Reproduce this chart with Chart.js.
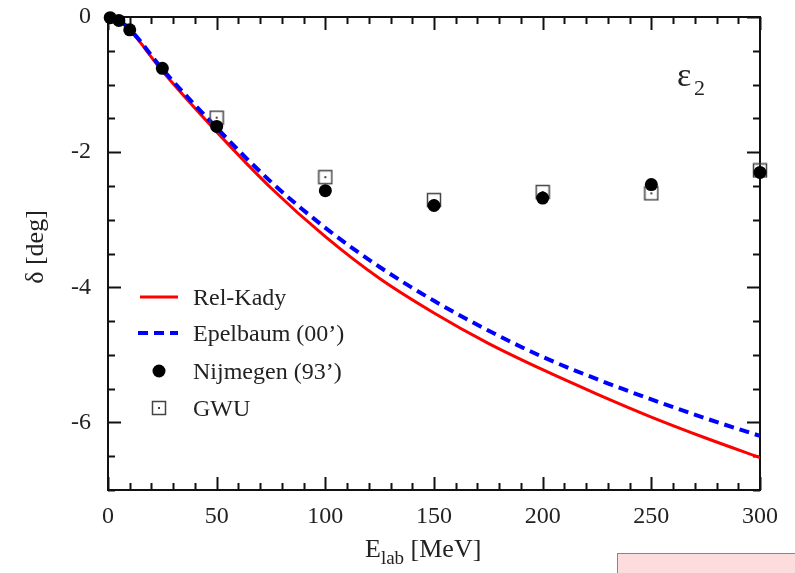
<!DOCTYPE html>
<html>
<head>
<meta charset="utf-8">
<script src="https://cdn.jsdelivr.net/npm/chart.js@4"></script>
<style>
  body { margin: 0; background: #fff; }
  #wrap { position: relative; width: 795px; height: 573px; overflow: hidden; }
  #pinkBox { position: absolute; left: 617px; top: 553px; width: 190px; height: 40px;
             background: #fcdcdc; border: 1.5px solid #c96a6a; box-sizing: border-box; }
</style>
</head>
<body>
<div id="wrap">
  <canvas id="phase" width="795" height="573"></canvas>
  <div id="pinkBox"></div>
</div>
<script>
// curves
var energies = [0, 5, 10, 25, 50, 75, 100, 125, 150, 175, 200, 225, 250, 275, 300];
var relKady  = [0, -0.05, -0.19, -0.8, -1.7, -2.53, -3.25, -3.87, -4.38, -4.83, -5.22, -5.58, -5.92, -6.23, -6.52];
var epelbaum = [0, -0.05, -0.18, -0.77, -1.64, -2.44, -3.12, -3.7, -4.2, -4.64, -5.03, -5.36, -5.66, -5.94, -6.2];

// phase shift analyses
var nijmE = [1, 5, 10, 25, 50, 100, 150, 200, 250, 300];
var nijm  = [-0.01, -0.05, -0.19, -0.76, -1.62, -2.57, -2.79, -2.68, -2.48, -2.3];
var gwuE  = [50, 100, 150, 200, 250, 300];
var gwu   = [-1.49, -2.37, -2.71, -2.59, -2.61, -2.27];

var xTicks = [0, 50, 100, 150, 200, 250, 300];
var yTicks = [0, -2, -4, -6];

var serif = '"Liberation Serif", "Times New Roman", serif';
var ink = '#222';

function pairs(xs, ys) {
    return xs.map(function (v, i) { return { x: v, y: ys[i] }; });
}

// open square with a tiny dot, like the GWU marker
var gwuMark = document.createElement('canvas');
gwuMark.width = 16; gwuMark.height = 16;
(function () {
    var c = gwuMark.getContext('2d');
    c.strokeStyle = '#444';
    c.lineWidth = 1.5;
    c.strokeRect(1.5, 1.5, 13, 13);
    c.fillStyle = '#444';
    c.fillRect(7, 7, 2, 2);
})();

var framePlugin = {
    id: 'frame',
    beforeDatasetsDraw: function (chart) {
        var ctx = chart.ctx, a = chart.chartArea, x = chart.scales.x, y = chart.scales.y;
        ctx.save();
        ctx.strokeStyle = '#111';
        ctx.lineWidth = 2;
        ctx.strokeRect(a.left, a.top, a.right - a.left, a.bottom - a.top);
        ctx.beginPath();
        for (var v = 0; v <= 300; v += 10) {
            var px = Math.round(x.getPixelForValue(v)) + 0.5;
            var len = v % 50 === 0 ? 13 : 7;
            ctx.moveTo(px, a.bottom); ctx.lineTo(px, a.bottom - len);
            ctx.moveTo(px, a.top); ctx.lineTo(px, a.top + len);
        }
        for (var w = -7; w <= 0; w += 0.5) {
            var py = Math.round(y.getPixelForValue(w)) + 0.5;
            var l2 = w % 2 === 0 ? 13 : 7;
            ctx.moveTo(a.left, py); ctx.lineTo(a.left + l2, py);
            ctx.moveTo(a.right, py); ctx.lineTo(a.right - l2, py);
        }
        ctx.stroke();
        ctx.restore();
    },
    afterDraw: function (chart) {
        var ctx = chart.ctx;
        ctx.save();
        ctx.fillStyle = ink;
        ctx.textBaseline = 'alphabetic';

        // y title
        ctx.save();
        ctx.translate(43, 247);
        ctx.rotate(-Math.PI / 2);
        ctx.textAlign = 'center';
        ctx.font = '26px ' + serif;
        ctx.fillText('\u03b4 [deg]', 0, 0);
        ctx.restore();

        // x title with subscript
        ctx.textAlign = 'left';
        ctx.font = '26px ' + serif;
        ctx.fillText('E', 365, 557);
        var ew = ctx.measureText('E').width;
        ctx.font = '19px ' + serif;
        ctx.fillText('lab', 365 + ew, 564);
        var lw = ctx.measureText('lab').width;
        ctx.font = '26px ' + serif;
        ctx.fillText(' [MeV]', 365 + ew + lw, 557);

        // panel label
        ctx.font = '34px ' + serif;
        ctx.fillText('\u03b5', 677, 86);
        ctx.font = '22px ' + serif;
        ctx.fillText('2', 694, 95);

        // legend
        var lx = 193;
        ctx.font = '24px ' + serif;
        ctx.lineWidth = 3;
        ctx.strokeStyle = '#ff0000';
        ctx.beginPath(); ctx.moveTo(140, 297); ctx.lineTo(178, 297); ctx.stroke();
        ctx.fillText('Rel-Kady', lx, 305);

        ctx.strokeStyle = '#0000ff';
        ctx.lineWidth = 4;
        ctx.setLineDash([10, 6]);
        ctx.beginPath(); ctx.moveTo(138, 333); ctx.lineTo(178, 333); ctx.stroke();
        ctx.setLineDash([]);
        ctx.fillText('Epelbaum (00\u2019)', lx, 341);

        ctx.beginPath(); ctx.arc(159, 371, 6.5, 0, Math.PI * 2);
        ctx.fillStyle = '#000'; ctx.fill();
        ctx.fillStyle = ink;
        ctx.fillText('Nijmegen (93\u2019)', lx, 379);

        ctx.drawImage(gwuMark, 151, 400);
        ctx.fillText('GWU', lx, 416);
        ctx.restore();
    }
};

var phase = document.getElementById('phase').getContext('2d');
var phaseChart = new Chart(phase, {
    type: 'line',
    data: {
        datasets: [{
            label: 'Nijmegen (93\u2019)',
            data: pairs(nijmE, nijm),
            showLine: false,
            pointRadius: 6.5,
            pointBackgroundColor: '#000',
            pointBorderColor: '#000',
            pointBorderWidth: 0,
            clip: false,
            order: 0
        }, {
            label: 'GWU',
            data: pairs(gwuE, gwu),
            showLine: false,
            pointStyle: gwuMark,
            clip: false,
            order: 1
        }, {
            label: 'Epelbaum (00\u2019)',
            data: pairs(energies, epelbaum),
            borderColor: '#0000ff',
            borderWidth: 4,
            borderDash: [10, 6],
            pointRadius: 0,
            cubicInterpolationMode: 'monotone',
            order: 2
        }, {
            label: 'Rel-Kady',
            data: pairs(energies, relKady),
            borderColor: '#ff0000',
            borderWidth: 3,
            pointRadius: 0,
            cubicInterpolationMode: 'monotone',
            order: 3
        }]
    },
    options: {
        responsive: false,
        animation: false,
        layout: {
            padding: { left: 0, right: 35, top: 17, bottom: 0 }
        },
        plugins: {
            legend: { display: false },
            tooltip: { enabled: false }
        },
        scales: {
            x: {
                type: 'linear',
                min: 0,
                max: 300,
                afterFit: function (s) { s.height = 83; s.paddingLeft = 0; s.paddingRight = 0; },
                afterBuildTicks: function (s) { s.ticks = xTicks.map(function (v) { return { value: v }; }); },
                grid: { display: false, drawTicks: false },
                border: { display: false },
                ticks: { color: ink, padding: 12, maxRotation: 0, font: { family: serif, size: 24 } }
            },
            y: {
                type: 'linear',
                min: -7,
                max: 0,
                afterFit: function (s) { s.width = 108; s.paddingTop = 0; s.paddingBottom = 0; },
                afterBuildTicks: function (s) { s.ticks = yTicks.map(function (v) { return { value: v }; }); },
                grid: { display: false, drawTicks: false },
                border: { display: false },
                ticks: { color: ink, padding: 17, font: { family: serif, size: 24 } }
            }
        }
    },
    plugins: [framePlugin]
});
</script>
</body>
</html>
